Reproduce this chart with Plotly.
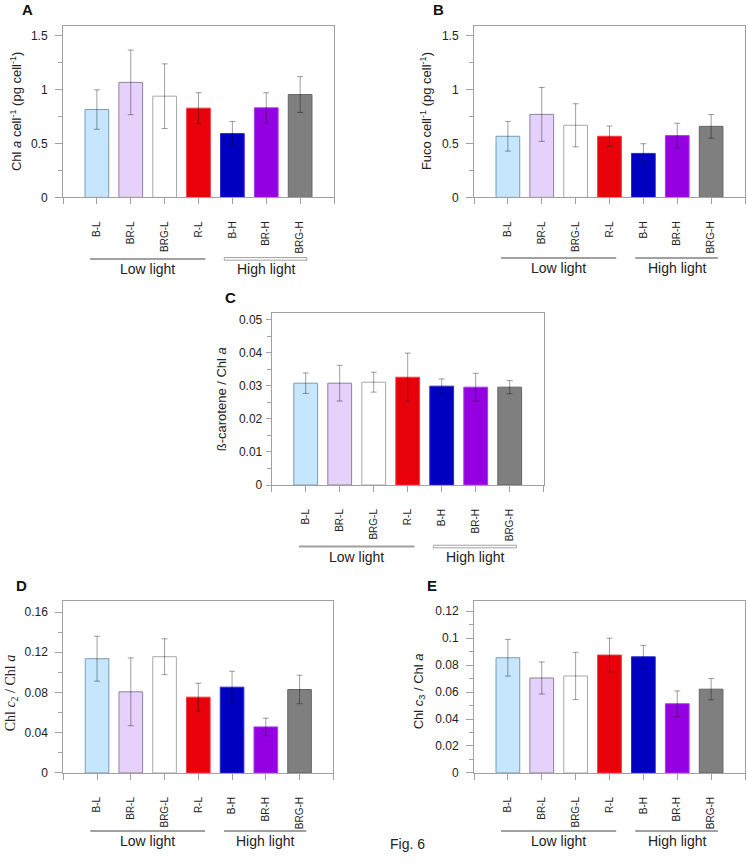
import plotly.graph_objects as go

categories = ["B-L", "BR-L", "BRG-L", "R-L", "B-H", "BR-H", "BRG-H"]
positions = [1, 2, 3, 4, 5, 6, 7]

chla_cell = [0.815, 1.067, 0.939, 0.828, 0.592, 0.831, 0.954]
chla_cell_err = [0.183, 0.300, 0.300, 0.143, 0.112, 0.140, 0.166]

fuco_cell = [0.567, 0.770, 0.669, 0.567, 0.408, 0.573, 0.659]
fuco_cell_err = [0.138, 0.250, 0.200, 0.095, 0.090, 0.115, 0.110]

bcar_chla = [0.0308, 0.0308, 0.0311, 0.0326, 0.0299, 0.0296, 0.0296]
bcar_chla_err = [0.0031, 0.0054, 0.0030, 0.0073, 0.0022, 0.0042, 0.0020]

chlc2_chla = [0.1136, 0.0807, 0.1156, 0.0754, 0.0853, 0.0458, 0.0830]
chlc2_chla_err = [0.0223, 0.0337, 0.0178, 0.0138, 0.0158, 0.0087, 0.0142]

chlc3_chla = [0.0854, 0.0704, 0.0719, 0.0874, 0.0861, 0.0513, 0.0621]
chlc3_chla_err = [0.0136, 0.0119, 0.0175, 0.0125, 0.0085, 0.0095, 0.0079]

fill_colors = ["#C5E6FC", "#E6D1FA", "#FFFFFF", "#E8000B", "#0000C0", "#9400E2", "#7F7F7F"]
line_colors = ["#7A9BB5", "#8E80A2", "#A8A8A8", "#F03C46", "#2A2AD0", "#A63CE6", "#666666"]

group_names = ["Low light", "High light"]

FONT = "Liberation Sans, Arial, sans-serif"
AX = "#A0A0A0"
W, H = 748, 863


def px_x(v):
    return v / W


def px_y(v):
    return 1 - v / H


panels = [
    dict(vals=chla_cell, err=chla_cell_err, ymax=1.592, dtick=0.5, minor=0.25,
         xpx=(63, 334), ypx=(26, 199), ystand=5, ylen=7,
         title="Chl <i>a</i> cell<sup>-1</sup> (pg cell<sup>-1</sup>)", tx=16, ty=112, tfont=FONT, tsize=13,
         letter="A", lx=27.5, ly=10, loff=62, toff=72, double=True),
    dict(vals=fuco_cell, err=fuco_cell_err, ymax=1.592, dtick=0.5, minor=0.25,
         xpx=(474, 745), ypx=(26, 199), ystand=5, ylen=7,
         title="Fuco cell<sup>-1</sup> (pg cell<sup>-1</sup>)", tx=426, ty=112, tfont=FONT, tsize=13,
         letter="B", lx=438, ly=10, loff=61, toff=71, double=False),
    dict(vals=bcar_chla, err=bcar_chla_err, ymax=0.0519, dtick=0.01, minor=0.005,
         xpx=(271.7, 543.7), ypx=(316, 489), ystand=1, ylen=5,
         title="ß-carotene / Chl <i>a</i>", tx=221.5, ty=403, tfont=FONT, tsize=13,
         letter="C", lx=230.5, ly=300, loff=62, toff=72.5, double=True),
    dict(vals=chlc2_chla, err=chlc2_chla_err, ymax=0.1709, dtick=0.04, minor=0.02,
         xpx=(63.3, 333.3), ypx=(606, 779.3), ystand=5, ylen=7,
         title="Chl <i>c</i><sub>2</sub> / Chl <i>a</i>", tx=11, ty=699,
         tfont="Liberation Serif, Times New Roman, serif", tsize=14,
         letter="D", lx=21.7, ly=590, loff=58.5, toff=69, double=False),
    dict(vals=chlc3_chla, err=chlc3_chla_err, ymax=0.1274, dtick=0.02, minor=0.01,
         xpx=(474, 745), ypx=(606, 779.3), ystand=5, ylen=7,
         title="Chl <i>c</i><sub>3</sub> / Chl <i>a</i>", tx=419, ty=697, tfont=FONT, tsize=13,
         letter="E", lx=431.7, ly=590, loff=58.5, toff=69, double=False),
]

fig = go.Figure()
layout = dict(width=W, height=H, margin=dict(l=0, r=0, t=0, b=0),
              paper_bgcolor="white", plot_bgcolor="white", showlegend=False,
              font=dict(family=FONT, color="#222222"))
annotations = []
shapes = []

for i, p in enumerate(panels):
    n = "" if i == 0 else str(i + 1)
    xa, ya = "x" + n, "y" + n
    fig.add_trace(go.Bar(
        x=positions, y=p["vals"], xaxis=xa, yaxis=ya, width=0.7,
        marker=dict(color=fill_colors, line=dict(color=line_colors, width=1)),
        error_y=dict(type="data", array=p["err"], visible=True,
                     color="rgba(0,0,0,0.38)", thickness=1, width=3),
    ))
    y_top, y_bot = p["ypx"]
    dom_y = [px_y(y_bot), px_y(y_top)]
    dom_x = [px_x(p["xpx"][0]), px_x(p["xpx"][1])]
    ph = y_bot - y_top
    layout["xaxis" + n] = dict(
        domain=dom_x, anchor=ya, range=[0, 8], showgrid=False, zeroline=False,
        showline=True, linecolor=AX, linewidth=1, mirror=True,
        tickmode="array", tickvals=positions, ticktext=categories,
        ticks="outside", ticklen=6, tickcolor=AX, tickangle=-90,
        minor=dict(tickmode="array", tickvals=[0, 8], ticks="outside", ticklen=6, tickcolor=AX),
        ticklabelstandoff=13, tickfont=dict(size=10, family=FONT, color="#222222"),
        fixedrange=True)
    layout["yaxis" + n] = dict(
        domain=dom_y, anchor=xa, range=[0, p["ymax"]], showgrid=False, zeroline=False,
        showline=True, linecolor=AX, linewidth=1, mirror=True,
        tick0=0, dtick=p["dtick"], ticks="outside", ticklen=p["ylen"], tickcolor=AX,
        tickfont=dict(size=12, family=FONT, color="#222222"), ticklabelstandoff=p["ystand"],
        minor=dict(dtick=p["minor"], ticks="outside", ticklen=4, tickcolor=AX),
        fixedrange=True)
    yd = ya + " domain"
    lo = -p["loff"] / ph
    to = -p["toff"] / ph
    shapes.append(dict(type="line", xref=xa, yref=yd, x0=0.8, x1=4.2, y0=lo, y1=lo,
                       line=dict(color=AX, width=2)))
    if p["double"]:
        d = 1.3 / ph
        shapes.append(dict(type="rect", xref=xa, yref=yd, x0=4.76, x1=7.2, y0=lo - d, y1=lo + d,
                           line=dict(color=AX, width=1), fillcolor="white"))
    else:
        shapes.append(dict(type="line", xref=xa, yref=yd, x0=4.76, x1=7.2, y0=lo, y1=lo,
                           line=dict(color=AX, width=2)))
    annotations.append(dict(text=group_names[0], xref=xa, yref=yd, x=2.5, y=to,
                            showarrow=False, xanchor="center", yanchor="middle",
                            font=dict(size=14, family=FONT, color="#222222")))
    annotations.append(dict(text=group_names[1], xref=xa, yref=yd, x=5.98, y=to,
                            showarrow=False, xanchor="center", yanchor="middle",
                            font=dict(size=14, family=FONT, color="#222222")))
    annotations.append(dict(text=p["title"], xref="paper", yref="paper",
                            x=px_x(p["tx"]), y=px_y(p["ty"]), textangle=-90,
                            showarrow=False, xanchor="center", yanchor="middle",
                            font=dict(size=p["tsize"], family=p["tfont"], color="#222222")))
    annotations.append(dict(text="<b>" + p["letter"] + "</b>", xref="paper", yref="paper",
                            x=px_x(p["lx"]), y=px_y(p["ly"]),
                            showarrow=False, xanchor="center", yanchor="middle",
                            font=dict(size=15, family=FONT, color="#111111")))

annotations.append(dict(text="Fig. 6", xref="paper", yref="paper", x=px_x(408), y=px_y(851),
                        showarrow=False, xanchor="center", yanchor="middle",
                        font=dict(size=14, family=FONT, color="#222222")))

layout["annotations"] = annotations
layout["shapes"] = shapes
fig.update_layout(**layout)
# remove the default 8px body margin so the figure fills the window exactly
fig.write_html("out.html", config={"displayModeBar": False},
               post_script="document.body.style.margin='0';")
